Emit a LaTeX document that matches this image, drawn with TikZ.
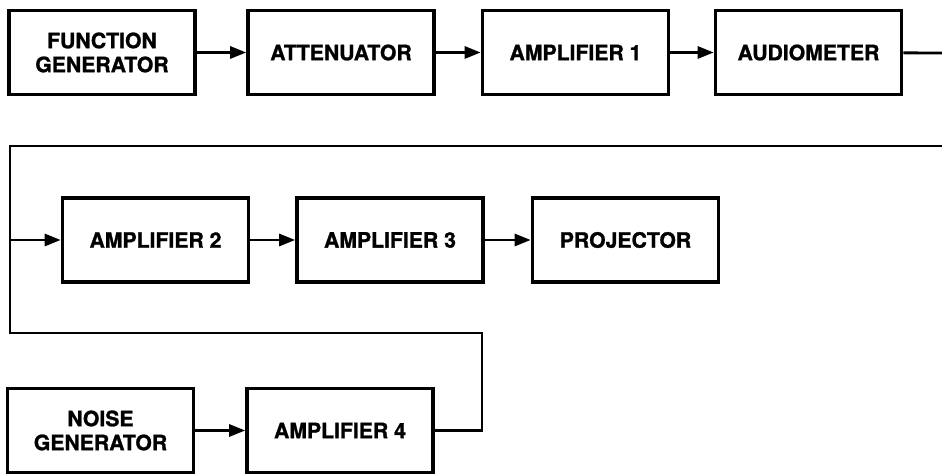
\documentclass[tikz,border=0pt]{standalone}
\usepackage{fontspec}
\setmainfont{TeX Gyre Heros}[BoldFeatures={FakeBold=1.2}]
\usetikzlibrary{arrows.meta,positioning,calc}

\tikzset{
  block/.style={draw, line width=1.8pt, minimum width=93pt, minimum height=42pt,
    inner sep=0pt, align=center, font=\fontsize{10.6}{12}\selectfont\bfseries},
  sig/.style={line width=1.4pt},
  arr/.style={sig, -{Triangle[length=8pt,width=6pt]}}
}

\begin{document}
\begin{tikzpicture}[x=0.5pt,y=-0.5pt]
    \useasboundingbox (0,0) rectangle (942,474);
    % source chain
    \node[block] (fgen) at (102,52.5) {FUNCTION\\GENERATOR};
    \node[block] (atten) at (341,52.5) {ATTENUATOR};
    \node[block] (amp1) at (575.5,52.5) {AMPLIFIER 1};
    \node[block] (audio) at (808.5,52.5) {AUDIOMETER};
    % output chain
    \node[block] (amp2) at (155.5,240) {AMPLIFIER 2};
    \node[block] (amp3) at (390,240) {AMPLIFIER 3};
    \node[block] (proj) at (625.5,240) {PROJECTOR};
    % noise chain
    \node[block] (noise) at (100.5,430.5) {NOISE\\GENERATOR};
    \node[block] (amp4) at (340,430.5) {AMPLIFIER 4};

    \coordinate (out) at (942,53);
    \coordinate (in) at (942,146);
    \coordinate (busT) at (10,146);
    \coordinate (busB) at (10,333);
    \coordinate (turn) at (482,333);

    \draw[arr] (fgen) -- (atten);
    \draw[arr] (atten) -- (amp1);
    \draw[arr] (amp1) -- (audio);
    \draw[sig] (audio) -- (out);
    \draw[sig] (in) -- (busT) -- (busB) -- (turn) |- (amp4.east);
    \draw[arr] (busT |- amp2.west) -- (amp2.west);
    \draw[arr] (amp2) -- (amp3);
    \draw[arr] (amp3) -- (proj);
    \draw[arr] (noise) -- (amp4);
\end{tikzpicture}
\end{document}
